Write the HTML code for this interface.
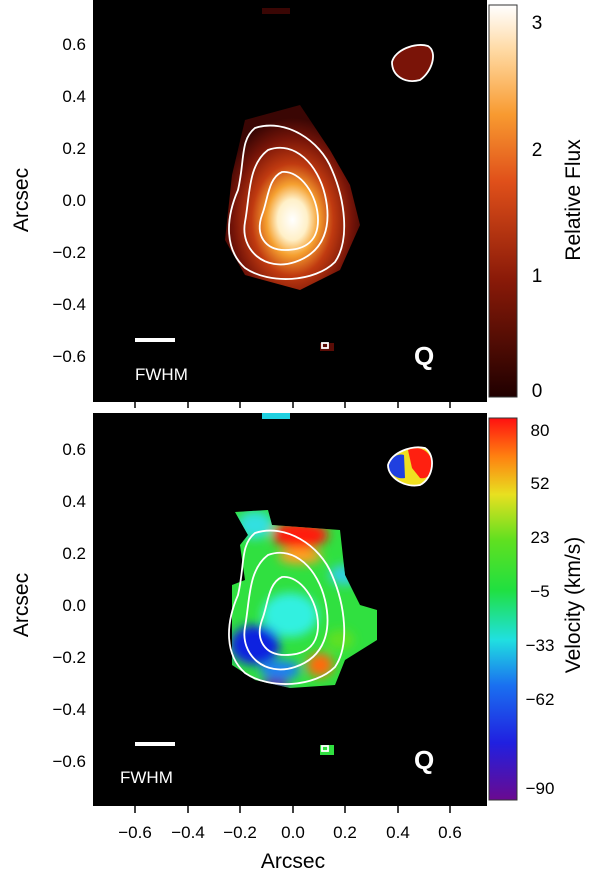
<!DOCTYPE html>
<html><head><style>
html,body{margin:0;padding:0;background:#fff;}
svg{display:block;font-family:"Liberation Sans",sans-serif;}
</style></head><body>
<svg width="600" height="881" viewBox="0 0 600 881">
<defs>
<radialGradient id="fl" cx="0.5" cy="0.62" r="0.55">
<stop offset="0" stop-color="#ffffff"/>
<stop offset="0.2" stop-color="#fff0c8"/>
<stop offset="0.35" stop-color="#f5a030"/>
<stop offset="0.55" stop-color="#c03a10"/>
<stop offset="0.8" stop-color="#761408"/>
<stop offset="1" stop-color="#3a0604"/>
</radialGradient>
<linearGradient id="cb1" x1="0" y1="1" x2="0" y2="0">
<stop offset="0" stop-color="#200000"/>
<stop offset="0.3" stop-color="#8a1a08"/>
<stop offset="0.55" stop-color="#e0501a"/>
<stop offset="0.72" stop-color="#f89a30"/>
<stop offset="0.88" stop-color="#ffd8a0"/>
<stop offset="1" stop-color="#ffffff"/>
</linearGradient>
<linearGradient id="cb2" x1="0" y1="1" x2="0" y2="0">
<stop offset="0" stop-color="#6a0a90"/>
<stop offset="0.15" stop-color="#2020e0"/>
<stop offset="0.3" stop-color="#1a70f0"/>
<stop offset="0.42" stop-color="#20e0e0"/>
<stop offset="0.55" stop-color="#20e040"/>
<stop offset="0.68" stop-color="#60e020"/>
<stop offset="0.8" stop-color="#e8e020"/>
<stop offset="0.9" stop-color="#ff8010"/>
<stop offset="1" stop-color="#ff1010"/>
</linearGradient>
<clipPath id="vb"><path d="M235 512 L268 510 L272 525 L340 530 L345 575 L360 605 L377 610 L377 640 L345 660 L335 685 L290 688 L255 680 L232 665 L232 585 L245 580 L240 545 L248 535 Z"/></clipPath>
<filter id="bl"><feGaussianBlur stdDeviation="5"/></filter>
</defs>

<rect x="93" y="0" width="394" height="402" fill="#000"/>
<rect x="262" y="8" width="28" height="6" fill="#3a0604"/>
<path d="M232 175 L245 120 L300 105 L330 150 L350 185 L360 225 L340 270 L300 290 L245 275 L225 240 Z" fill="url(#fl)"/>
<path d="M392 62 C395 50 415 42 428 46 C438 52 432 72 420 80 C405 84 392 76 392 62 Z" fill="#7a1408"/>
<rect x="320" y="343" width="14" height="8" fill="#5a0c06"/>
<g fill="none" stroke="#fff" stroke-width="1.8">
<path d="M255 128 C285 118 320 140 332 170 C345 200 350 240 335 262 C315 282 270 285 245 268 C225 250 225 220 238 190 C245 160 240 140 255 128 Z"/>
<path d="M268 150 C295 140 318 165 325 195 C332 225 325 252 295 262 C265 272 240 250 245 222 C250 195 248 165 268 150 Z"/>
<path d="M282 172 C300 170 318 195 318 220 C318 245 300 250 285 250 C265 250 255 235 262 215 C268 200 268 178 282 172 Z"/>
<path d="M392 62 C395 50 415 42 428 46 C438 52 432 72 420 80 C405 84 392 76 392 62 Z"/>
<rect x="322" y="343" width="6" height="5"/>
</g>
<rect x="135" y="338" width="40" height="4" fill="#fff"/>
<text x="135" y="380" font-size="17" fill="#fff">FWHM</text>
<text x="414" y="365" font-size="26" font-weight="bold" fill="#fff">Q</text>
<line x1="293" y1="0" x2="293" y2="10" stroke="#000" stroke-width="2"/>
<g stroke="#000" stroke-width="1.5">
<line x1="135" y1="402" x2="135" y2="408"/><line x1="188" y1="402" x2="188" y2="408"/><line x1="240" y1="402" x2="240" y2="408"/><line x1="293" y1="402" x2="293" y2="408"/><line x1="345" y1="402" x2="345" y2="408"/><line x1="398" y1="402" x2="398" y2="408"/><line x1="450" y1="402" x2="450" y2="408"/>
</g>
<g font-size="17" fill="#000" text-anchor="end">
<text x="86" y="50">0.6</text><text x="86" y="102">0.4</text><text x="86" y="154">0.2</text><text x="86" y="206">0.0</text><text x="86" y="258">−0.2</text><text x="86" y="310">−0.4</text><text x="86" y="362">−0.6</text>
</g>
<text transform="translate(28,200) rotate(-90)" font-size="21" text-anchor="middle">Arcsec</text>
<rect x="489" y="5" width="28" height="392" fill="url(#cb1)" stroke="#333" stroke-width="1"/>
<g font-size="19" text-anchor="middle"><text x="537" y="29">3</text><text x="537" y="156">2</text><text x="537" y="282">1</text><text x="537" y="397">0</text></g>
<text transform="translate(580,200) rotate(-90)" font-size="21" text-anchor="middle">Relative Flux</text>

<rect x="93" y="413" width="394" height="393" fill="#000"/>
<rect x="262" y="413" width="28" height="6" fill="#20d0e0"/>
<g clip-path="url(#vb)">
<rect x="225" y="505" width="160" height="190" fill="#30e040"/>
<g filter="url(#bl)">
<ellipse cx="255" cy="525" rx="18" ry="14" fill="#30e0e0"/>
<ellipse cx="300" cy="535" rx="28" ry="14" fill="#ff1a08"/>
<ellipse cx="300" cy="556" rx="22" ry="8" fill="#ffa020"/>
<ellipse cx="345" cy="575" rx="16" ry="10" fill="#30d0e0"/>
<ellipse cx="290" cy="615" rx="28" ry="22" fill="#30f0e0"/>
<ellipse cx="255" cy="645" rx="25" ry="20" fill="#0a20e0"/>
<ellipse cx="280" cy="670" rx="20" ry="10" fill="#1a80f0"/>
<ellipse cx="275" cy="685" rx="14" ry="6" fill="#5a10a0"/>
<ellipse cx="320" cy="665" rx="13" ry="12" fill="#ff6a10"/>
<ellipse cx="340" cy="640" rx="14" ry="10" fill="#60e020"/>
</g>
</g>
<path d="M388 465 C392 452 412 445 425 448 C436 455 434 478 420 485 C405 488 388 478 388 465 Z" fill="#f0e020"/>
<path d="M408 450 C418 445 430 450 432 462 C433 472 428 480 420 478 L412 468 Z" fill="#ff2010"/>
<path d="M388 465 C390 458 398 453 404 455 L405 478 C396 480 388 472 388 465 Z" fill="#2040e0"/>
<rect x="320" y="745" width="14" height="10" fill="#30e040"/>
<g fill="none" stroke="#fff" stroke-width="1.8">
<path d="M255 533 C285 523 320 545 332 575 C345 605 350 645 335 667 C315 687 270 690 245 673 C225 655 225 625 238 595 C245 565 240 545 255 533 Z"/>
<path d="M268 555 C295 545 318 570 325 600 C332 630 325 657 295 667 C265 677 240 655 245 627 C250 600 248 570 268 555 Z"/>
<path d="M282 577 C300 575 318 600 318 625 C318 650 300 655 285 655 C265 655 255 640 262 620 C268 605 268 583 282 577 Z"/>
<path d="M388 465 C392 452 412 445 425 448 C436 455 434 478 420 485 C405 488 388 478 388 465 Z"/>
<rect x="322" y="746" width="6" height="5"/>
</g>
<rect x="135" y="742" width="40" height="4" fill="#fff"/>
<text x="120" y="783" font-size="17" fill="#fff">FWHM</text>
<text x="414" y="769" font-size="26" font-weight="bold" fill="#fff">Q</text>
<g stroke="#000" stroke-width="1.5">
<line x1="135" y1="806" x2="135" y2="813"/><line x1="188" y1="806" x2="188" y2="813"/><line x1="240" y1="806" x2="240" y2="813"/><line x1="293" y1="806" x2="293" y2="813"/><line x1="345" y1="806" x2="345" y2="813"/><line x1="398" y1="806" x2="398" y2="813"/><line x1="450" y1="806" x2="450" y2="813"/>
</g>
<g font-size="17" fill="#000" text-anchor="middle">
<text x="135" y="838">−0.6</text><text x="188" y="838">−0.4</text><text x="240" y="838">−0.2</text><text x="293" y="838">0.0</text><text x="345" y="838">0.2</text><text x="398" y="838">0.4</text><text x="450" y="838">0.6</text>
</g>
<text x="293" y="868" font-size="21" text-anchor="middle">Arcsec</text>
<g font-size="17" fill="#000" text-anchor="end">
<text x="86" y="455">0.6</text><text x="86" y="507">0.4</text><text x="86" y="559">0.2</text><text x="86" y="611">0.0</text><text x="86" y="663">−0.2</text><text x="86" y="715">−0.4</text><text x="86" y="767">−0.6</text>
</g>
<text transform="translate(28,605) rotate(-90)" font-size="21" text-anchor="middle">Arcsec</text>
<rect x="489" y="418" width="28" height="382" fill="url(#cb2)" stroke="#333" stroke-width="1"/>
<g font-size="17" text-anchor="middle">
<text x="540" y="436">80</text><text x="540" y="489">52</text><text x="540" y="543">23</text><text x="540" y="597">−5</text><text x="540" y="651">−33</text><text x="540" y="705">−62</text><text x="540" y="794">−90</text>
</g>
<text transform="translate(580,605) rotate(-90)" font-size="21" text-anchor="middle">Velocity (km/s)</text>
</svg>
</body></html>
